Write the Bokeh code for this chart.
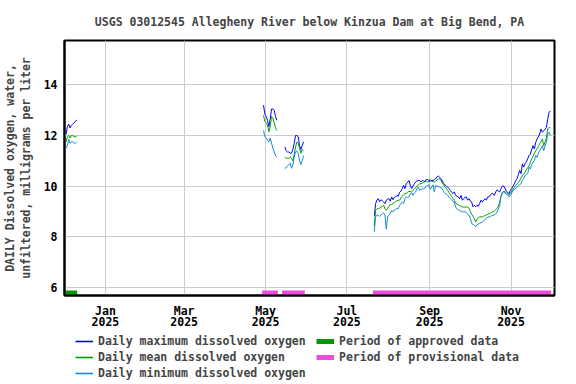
import numpy as np
import pandas as pd
from bokeh.plotting import figure
from bokeh.layouts import column
from bokeh.models import Range1d, FixedTicker, Legend, LegendItem, ColumnDataSource
from bokeh.embed import file_html
from bokeh.resources import INLINE

title = "USGS 03012545 Allegheny River below Kinzua Dam at Big Bend, PA"
y_label = "DAILY Dissolved oxygen, water,\nunfiltered, milligrams per liter"

# first day of each data segment (daily values)
seg_starts = ["2024-12-02", "2025-04-29", "2025-05-15", "2025-07-21"]

max_seg1 = [12.05, 12.35, 12.45, 12.3, 12.4, 12.45, 12.5, 12.55, 12.62]
mean_seg1 = [11.75, 11.95, 12.0, 11.9, 12.0, 12.0, 11.95, 11.95, 11.95]
min_seg1 = [11.5, 11.6, 11.85, 11.7, 11.75, 11.75, 11.7, 11.7, 11.75]

max_seg2 = [13.2, 12.85, 12.75, 12.6, 12.35, 12.65, 13.05, 13.05, 13.0, 12.75, 12.6]
mean_seg2 = [12.8, 12.55, 12.5, 12.4, 12.15, 12.35, 12.75, 12.7, 12.5, 12.3, 12.2]
min_seg2 = [12.2, 11.95, 11.9, 11.8, 11.75, 11.9, 11.7, 11.5, 11.35, 11.2, 11.15]

max_seg3 = [11.55, 11.4, 11.35, 11.35, 11.3, 11.3, 11.45, 11.7, 12.0, 12.0, 11.95, 11.6, 11.45, 11.6, 11.75]
mean_seg3 = [11.15, 11.1, 11.1, 11.1, 11.15, 11.1, 11.0, 11.25, 11.55, 11.75, 11.7, 11.5, 11.3, 11.45, 11.4]
min_seg3 = [10.7, 10.72, 10.8, 10.85, 10.9, 10.7, 10.85, 11.15, 11.35, 11.4, 11.3, 11.0, 10.85, 11.0, 11.2]

max_seg4 = [
    8.8, 9.3, 9.45, 9.5, 9.38, 9.46, 9.42, 9.37, 9.31, 9.44,
    9.48, 9.5, 9.4, 9.57, 9.46, 9.55, 9.57, 9.63, 9.6, 9.76,
    9.8, 9.9, 10.03, 9.9, 10.09, 10.15, 10.22, 10.03, 9.9, 10.0,
    10.09, 10.16, 10.2, 10.22, 10.22, 10.16, 10.22, 10.2, 10.18, 10.26,
    10.26, 10.22, 10.24, 10.22, 10.22, 10.26, 10.29, 10.36, 10.4, 10.35,
    10.29, 10.2, 10.1, 10.05, 10.0, 9.96, 9.9, 9.83, 9.75, 9.7,
    9.77, 9.63, 9.6, 9.57, 9.5, 9.63, 9.44, 9.5, 9.55, 9.57,
    9.44, 9.5, 9.4, 9.37, 9.18, 9.24, 9.18, 9.24, 9.2, 9.31,
    9.44, 9.37, 9.45, 9.5, 9.44, 9.57, 9.57, 9.65, 9.7, 9.7,
    9.63, 9.77, 9.85, 9.8, 9.77, 9.9, 10.0, 10.0, 9.9, 9.8,
    9.76, 9.7, 9.83, 9.9, 10.0, 10.09, 10.22, 10.29, 10.45, 10.62,
    10.49, 10.88, 10.75, 10.9, 10.95, 11.08, 11.21, 11.27, 11.45, 11.6,
    11.47, 11.73, 11.86, 11.95, 12.06, 12.26, 12.13, 12.19, 12.25, 12.32,
    12.65, 12.91, 12.98,
]
mean_seg4 = [
    8.4, 9.04, 9.1, 9.11, 9.13, 9.17, 9.2, 9.24, 9.11, 9.04,
    9.11, 9.2, 9.27, 9.27, 9.31, 9.35, 9.38, 9.42, 9.44, 9.44,
    9.53, 9.6, 9.66, 9.7, 9.7, 9.76, 9.79, 9.78, 9.77, 9.83,
    9.88, 9.94, 10.0, 10.05, 10.09, 10.09, 10.12, 10.15, 10.17, 10.19,
    10.16, 10.18, 10.19, 10.19, 10.18, 10.16, 10.2, 10.24, 10.28, 10.29,
    10.22, 10.12, 10.05, 9.96, 9.9, 9.83, 9.75, 9.66, 9.58, 9.5,
    9.44, 9.33, 9.28, 9.25, 9.23, 9.2, 9.17, 9.17, 9.17, 9.17,
    9.17, 9.11, 9.0, 8.88, 8.8, 8.72, 8.58, 8.68, 8.75, 8.78,
    8.78, 8.78, 8.8, 8.84, 8.86, 8.88, 8.91, 8.93, 8.96, 8.98,
    9.02, 9.06, 9.11, 9.2, 9.37, 9.6, 9.72, 9.8, 9.77, 9.74,
    9.68, 9.63, 9.7, 9.8, 9.88, 9.95, 10.03, 10.09, 10.14, 10.22,
    10.32, 10.42, 10.48, 10.55, 10.65, 10.73, 10.81, 10.95, 11.08, 11.18,
    11.3, 11.4, 11.48, 11.56, 11.68, 11.76, 11.86, 11.6, 11.75, 11.9,
    12.26, 12.32, 12.3,
]
min_seg4 = [
    8.19, 8.78, 8.85, 8.85, 8.8, 8.85, 8.91, 8.94, 8.85, 8.3,
    8.78, 8.85, 8.91, 9.04, 8.98, 9.05, 9.08, 9.11, 9.11, 9.24,
    9.3, 9.37, 9.31, 9.5, 9.57, 9.55, 9.57, 9.7, 9.74, 9.63,
    9.72, 9.77, 9.9, 9.96, 9.83, 9.87, 9.88, 9.9, 9.92, 10.0,
    10.02, 10.05, 9.87, 9.96, 10.05, 9.77, 10.03, 10.0, 9.98, 9.96,
    9.93, 9.9, 9.77, 9.72, 9.68, 9.63, 9.56, 9.5, 9.45, 9.4,
    9.37, 9.17, 9.1, 9.05, 9.04, 9.0, 8.98, 8.98, 8.98, 8.95,
    8.9, 8.85, 8.72, 8.52, 8.48, 8.45, 8.39, 8.48, 8.5, 8.52,
    8.55, 8.58, 8.62, 8.68, 8.74, 8.76, 8.78, 8.8, 8.83, 8.85,
    8.85, 8.91, 8.98, 9.08, 9.24, 9.6, 9.76, 9.77, 9.72, 9.7,
    9.63, 9.57, 9.63, 9.72, 9.83, 9.87, 9.9, 9.96, 10.03, 10.06,
    10.09, 10.22, 10.29, 10.42, 10.45, 10.49, 10.75, 10.68, 10.85, 10.95,
    11.01, 11.21, 11.14, 11.3, 11.4, 11.5, 11.6, 11.4, 11.6, 11.73,
    12.06, 12.13, 12.0,
]

approved_start = ["2024-12-01 08:00"]
approved_end = ["2024-12-10 20:00"]
provisional_start = ["2025-04-28 12:00", "2025-05-13 10:00", "2025-07-20 12:00"]
provisional_end = ["2025-05-10 06:00", "2025-05-30 10:00", "2025-12-01 00:00"]

x_ticks = ["2025-01-01", "2025-03-01", "2025-05-01", "2025-07-01", "2025-09-01", "2025-11-01"]
x_tick_labels = ["Jan\n2025", "Mar\n2025", "May\n2025", "Jul\n2025", "Sep\n2025", "Nov\n2025"]
y_ticks = [6, 8, 10, 12, 14]

legend_left = ["Daily maximum dissolved oxygen", "Daily mean dissolved oxygen",
               "Daily minimum dissolved oxygen"]
legend_right = ["Period of approved data", "Period of provisional data"]

# ---- build series with gaps between segments ----
def build(segs):
    xs, ys = [], []
    for start, vals in zip(seg_starts, segs):
        d = pd.date_range(start, periods=len(vals), freq="D") + pd.Timedelta(hours=12)
        xs.extend([t.to_pydatetime() for t in d])
        ys.extend(vals)
        xs.append((d[-1] + pd.Timedelta(hours=12)).to_pydatetime())
        ys.append(np.nan)
    return xs, ys

x_max, y_max = build([max_seg1, max_seg2, max_seg3, max_seg4])
x_mean, y_mean = build([mean_seg1, mean_seg2, mean_seg3, mean_seg4])
x_min, y_min = build([min_seg1, min_seg2, min_seg3, min_seg4])

FONT = "DejaVu Sans Mono"
c_max, c_mean, c_min = "#0000ff", "#00a000", "#1a8ad4"
c_appr, c_prov = "#009900", "#ec4bdc"
bar_level = 5.77

p = figure(width=576, height=332, x_axis_type="datetime", output_backend="svg",
           toolbar_location=None,
           x_range=Range1d(pd.Timestamp("2024-12-01 08:00").to_pydatetime(),
                           pd.Timestamp("2025-12-03 14:00").to_pydatetime()),
           y_range=Range1d(5.67, 15.76),
           min_border_left=64, min_border_right=22, min_border_top=40, min_border_bottom=36)

p.title.text = title
p.title.align = "center"
p.title.text_font = FONT
p.title.text_font_size = "11.5px"
p.title.text_font_style = "bold"
p.title.standoff = 24

r_max = p.line(x_max, y_max, line_color=c_max, line_width=1)
r_mean = p.line(x_mean, y_mean, line_color=c_mean, line_width=1)
r_min = p.line(x_min, y_min, line_color=c_min, line_width=1)

appr_src = ColumnDataSource(dict(x0=[pd.Timestamp(t).to_pydatetime() for t in approved_start],
                                 x1=[pd.Timestamp(t).to_pydatetime() for t in approved_end],
                                 y=[bar_level] * len(approved_start)))
prov_src = ColumnDataSource(dict(x0=[pd.Timestamp(t).to_pydatetime() for t in provisional_start],
                                 x1=[pd.Timestamp(t).to_pydatetime() for t in provisional_end],
                                 y=[bar_level] * len(provisional_start)))
p.segment(x0="x0", x1="x1", y0="y", y1="y", source=appr_src, line_color=c_appr,
          line_width=5, line_cap="butt")
p.segment(x0="x0", x1="x1", y0="y", y1="y", source=prov_src, line_color=c_prov,
          line_width=5, line_cap="butt")

tick_ms = [int(pd.Timestamp(t).value // 10**6) for t in x_ticks]
p.xaxis.ticker = FixedTicker(ticks=tick_ms)
p.xaxis.major_label_overrides = {ms: lab for ms, lab in zip(tick_ms, x_tick_labels)}
p.yaxis.ticker = FixedTicker(ticks=y_ticks)
p.yaxis.axis_label = y_label

for ax in (p.xaxis[0], p.yaxis[0]):
    ax.major_label_text_font = FONT
    ax.major_label_text_font_size = "11.5px"
    ax.major_label_text_font_style = "bold"
    ax.major_label_text_color = "black"
    ax.major_label_text_line_height = 0.85
    ax.major_tick_out = 0
    ax.major_tick_in = 0
    ax.minor_tick_out = 0
    ax.minor_tick_in = 0
    ax.axis_line_color = "black"
    ax.axis_line_width = 2
p.xaxis.major_label_standoff = 8
p.yaxis.major_label_standoff = 7
p.yaxis.axis_label_text_font = FONT
p.yaxis.axis_label_text_font_size = "11.5px"
p.yaxis.axis_label_text_font_style = "bold"
p.yaxis.axis_label_text_line_height = 1.1
p.yaxis.axis_label_standoff = 8

p.xgrid.grid_line_color = "#cccccc"
p.ygrid.grid_line_color = "#cccccc"
p.outline_line_color = "black"
p.outline_line_width = 2
p.background_fill_color = "white"
p.border_fill_color = "white"

# ---- legend strip below the chart (its frame is aligned with the chart frame) ----
q = figure(width=576, height=52, title=None, output_backend="svg", toolbar_location=None,
           x_range=Range1d(0, 1), y_range=Range1d(0, 1),
           x_axis_location=None, y_axis_location=None,
           min_border=0, min_border_left=0, min_border_right=0, min_border_top=0, min_border_bottom=0)
q.xgrid.visible = False
q.ygrid.visible = False
q.outline_line_color = None
q.background_fill_color = "white"
q.border_fill_color = "white"

nan_pt = [np.nan]
k_max = q.line(nan_pt, nan_pt, line_color=c_max, line_width=1.6)
k_mean = q.line(nan_pt, nan_pt, line_color=c_mean, line_width=1.6)
k_min = q.line(nan_pt, nan_pt, line_color=c_min, line_width=1.6)
k_appr = q.line(nan_pt, nan_pt, line_color=c_appr, line_width=5, line_cap="butt")
k_prov = q.line(nan_pt, nan_pt, line_color=c_prov, line_width=5, line_cap="butt")


def make_legend(labels, rends, loc):
    lg = Legend(items=[LegendItem(label=l, renderers=[r]) for l, r in zip(labels, rends)],
                orientation="vertical", location=loc)
    lg.label_text_font = FONT
    lg.label_text_font_size = "11.5px"
    lg.label_text_font_style = "bold"
    lg.glyph_width = 18
    lg.glyph_height = 14
    lg.label_height = 14
    lg.label_standoff = 5
    lg.spacing = 2
    lg.padding = 0
    lg.margin = 0
    lg.border_line_color = None
    lg.background_fill_alpha = 0
    return lg


q.add_layout(make_legend(legend_left, [k_max, k_mean, k_min], (11, 4)))
q.add_layout(make_legend(legend_right, [k_appr, k_prov], (252, 20)))

layout = column(p, q, spacing=0)
open("out.html", "w").write(file_html(layout, INLINE))
